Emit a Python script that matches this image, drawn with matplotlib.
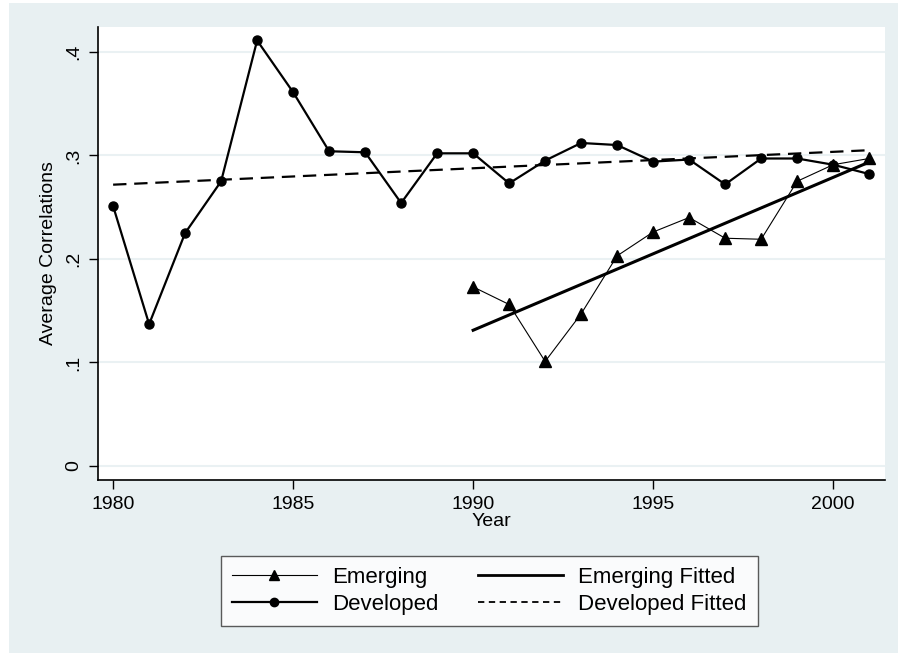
import matplotlib.pyplot as plt
import numpy as np
from matplotlib.patches import Rectangle
from matplotlib.lines import Line2D

plt.rcParams['font.family'] = ['Liberation Sans', 'DejaVu Sans']

# данные
dev_years = list(range(1980, 2002))
developed = [0.251, 0.137, 0.225, 0.275, 0.411, 0.361, 0.304, 0.303, 0.254, 0.302, 0.302,
             0.273, 0.295, 0.312, 0.310, 0.294, 0.296, 0.272, 0.297, 0.297, 0.291, 0.282]
em_years = list(range(1990, 2002))
emerging = [0.173, 0.156, 0.101, 0.147, 0.203, 0.226, 0.240, 0.220, 0.219, 0.275, 0.291, 0.297]

y_ticks = [0, 0.1, 0.2, 0.3, 0.4]
y_ticklabels = ['0', '.1', '.2', '.3', '.4']
x_ticks = [1980, 1985, 1990, 1995, 2000]

# линейные тренды
dev_fit = np.polyval(np.polyfit(dev_years, developed, 1), dev_years)
em_fit = np.polyval(np.polyfit(em_years, emerging, 1), em_years)

bg = '#e8f0f2'
grid_c = '#eaf1f3'
fs = 14

fig = plt.figure(figsize=(8.98, 6.53), dpi=100, facecolor='white')
fig.patches.append(Rectangle((9 / 898, 0), 889 / 898, 650 / 653, transform=fig.transFigure,
                             facecolor=bg, edgecolor='none', zorder=-10))

ax = fig.add_axes([98 / 898, 1 - 480 / 653, 787 / 898, 453 / 653])
ax.set_zorder(1)
ax.set_facecolor('white')

ax.plot(em_years, emerging, color='black', lw=0.8, marker='^', ms=8.5, zorder=3)
ax.plot(em_years, em_fit, color='black', lw=2.2, zorder=2)
ax.plot(dev_years, developed, color='black', lw=1.6, marker='o', ms=6.5, zorder=3)
ax.plot(dev_years, dev_fit, color='black', lw=1.6, ls=(0, (6, 3.5)), zorder=2)

ax.set_xlim(1979.58, 2001.44)
ax.set_ylim(-0.0135, 0.424)
ax.set_xticks(x_ticks)
ax.set_yticks(y_ticks)
ax.set_yticklabels(y_ticklabels, rotation=90, va='center')
ax.tick_params(axis='both', direction='out', length=6.5, width=1, labelsize=fs, pad=5)
ax.grid(axis='y', color=grid_c, lw=1.5)
ax.set_axisbelow(True)
for s in ['top', 'right']:
    ax.spines[s].set_visible(False)
for s in ['left', 'bottom']:
    ax.spines[s].set_linewidth(1.2)

ax.set_xlabel('Year', fontsize=fs, labelpad=0)
ax.set_ylabel('Average Correlations', fontsize=fs, labelpad=6)

handles = [
    Line2D([], [], color='black', lw=0.8, marker='^', ms=7.5),
    Line2D([], [], color='black', lw=1.6, marker='o', ms=6),
    Line2D([], [], color='black', lw=2.0),
    Line2D([], [], color='black', lw=1.3, ls=(0, (3.5, 2.5))),
]
labels = ['Emerging', 'Developed', 'Emerging Fitted', 'Developed Fitted']
leg = fig.legend(handles, labels, ncol=2, loc='upper left',
                 bbox_to_anchor=(221 / 898, 1 - 556 / 653), fontsize=16,
                 handlelength=3.8, handletextpad=0.7, columnspacing=1.8,
                 frameon=True, fancybox=False, borderpad=0.5, labelspacing=0.25,
                 borderaxespad=0)
leg.get_frame().set_edgecolor('#333333')
leg.get_frame().set_linewidth(1.0)

fig.savefig('out.png', dpi=100, facecolor=fig.get_facecolor())
